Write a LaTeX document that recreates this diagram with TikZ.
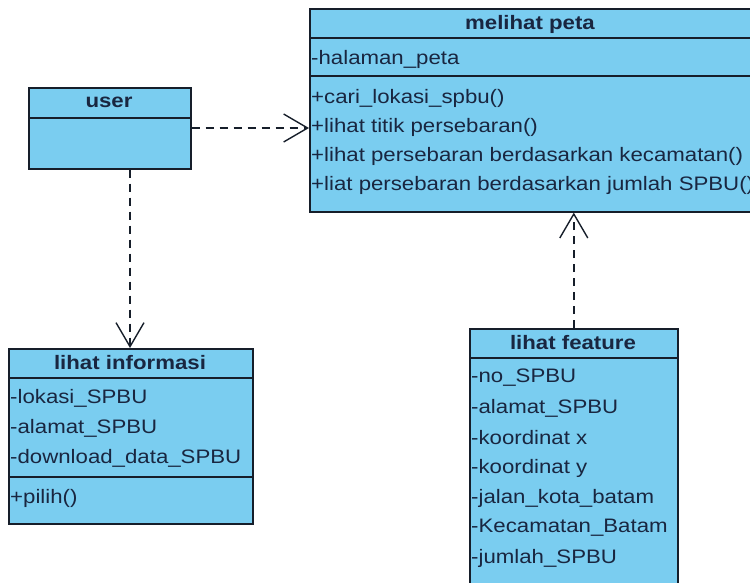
\documentclass[tikz,border=0pt]{standalone}
\usepackage{fontspec}
\setmainfont[FakeStretch=1.14]{Liberation Sans}
\usetikzlibrary{positioning,arrows.meta}
\definecolor{classfill}{RGB}{122,205,240}
\definecolor{classline}{RGB}{22,30,42}
\definecolor{ink}{RGB}{25,38,64}
\newcommand{\umlfont}{\fontsize{19.5}{22}\selectfont}
\tikzset{
  classbox/.style  ={rectangle, draw=classline, fill=classfill, line width=1.6pt, anchor=north west, inner sep=0pt},
  titletext/.style ={font=\umlfont\bfseries, text=ink, inner sep=0pt},
  membertext/.style={anchor=west, font=\umlfont, text=ink, inner sep=0pt},
  divider/.style   ={draw=classline, line width=1.6pt},
  dep/.style       ={draw=classline, line width=1.4pt, dash pattern=on 8pt off 6pt, -{Straight Barb[length=24pt,width=28pt]}},
}

\begin{document}
\begin{tikzpicture}[x=1pt,y=-1pt]
\useasboundingbox (0,0) rectangle (750,582);
\clip (0,0) rectangle (750,582);
% --- class frames ---
\node[classbox, minimum width=443pt, minimum height=203pt] (peta)    at (309,8)   {};
\node[classbox, minimum width=162pt, minimum height=81pt]  (user)    at (28,87)   {};
\node[classbox, minimum width=244pt, minimum height=175pt] (info)    at (8,348)   {};
\node[classbox, minimum width=208pt, minimum height=280pt] (feature) at (469,328) {};
% --- compartments ---
\draw[divider] (peta.west |- 0,38) -- (peta.east |- 0,38);
\draw[divider] (peta.west |- 0,76) -- (peta.east |- 0,76);
\draw[divider] (user.west |- 0,118) -- (user.east |- 0,118);
\draw[divider] (info.west |- 0,378) -- (info.east |- 0,378);
\draw[divider] (info.west |- 0,477) -- (info.east |- 0,477);
\draw[divider] (feature.west |- 0,358) -- (feature.east |- 0,358);
% --- melihat peta ---
\node[titletext] (petaname) at (530,24) {melihat peta};
\node[membertext] (p1) at (311,59)  {-halaman\_peta};
\node[membertext] (p2) at (311,98)  {+cari\_lokasi\_spbu()};
\node[membertext] (p3) at (311,127) {+lihat titik persebaran()};
\node[membertext] (p4) at (311,156) {+lihat persebaran berdasarkan kecamatan()};
\node[membertext] (p5) at (311,185) {+liat persebaran berdasarkan jumlah SPBU()};
% --- user ---
\node[titletext] (username) at (109,102) {user};
% --- lihat informasi ---
\node[titletext] (infoname) at (130,363) {lihat informasi};
\node[membertext] (i1) at (10,398) {-lokasi\_SPBU};
\node[membertext] (i2) at (10,428) {-alamat\_SPBU};
\node[membertext] (i3) at (10,458) {-download\_data\_SPBU};
\node[membertext] (i4) at (10,498) {+pilih()};
% --- lihat feature ---
\node[titletext] (featname) at (573,343) {lihat feature};
\foreach \t [count=\k from 0] in {-no\_SPBU,-alamat\_SPBU,-koordinat x,-koordinat y,-jalan\_kota\_batam,-Kecamatan\_Batam,-jumlah\_SPBU}
  \node[membertext] (f\k) at (471,378+30*\k) {\t};
% --- dependencies ---
\draw[dep] (user.east |- 0,128) -- (peta.west |- 0,128);
\draw[dep] (130,0 |- user.south) -- (130,0 |- info.north);
\draw[dep] (feature.north) -- (feature.north |- peta.south);
\end{tikzpicture}
\end{document}
